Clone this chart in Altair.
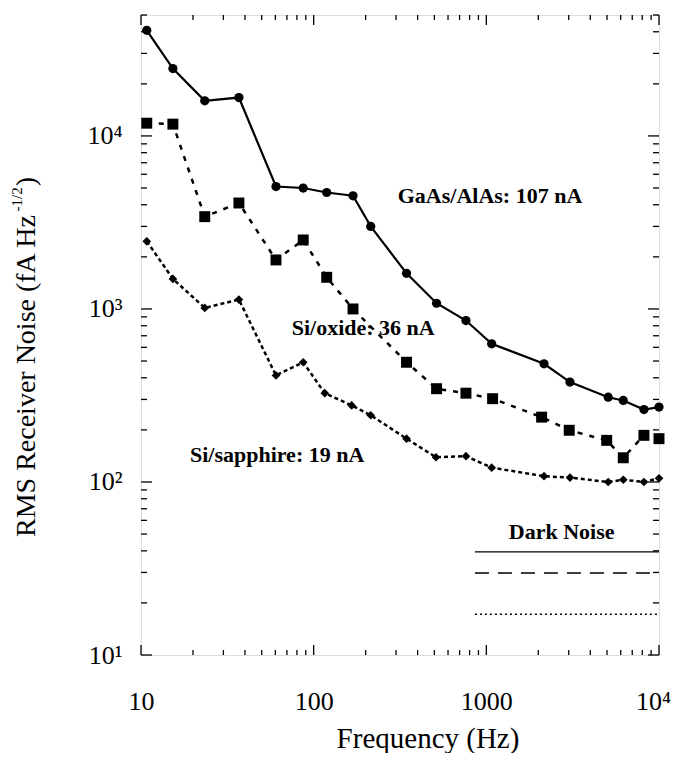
import altair as alt
import pandas as pd

# ---------------- data ----------------
gaas_f = [10.8, 15.3, 23.4, 36.9, 60.5, 87, 119, 169, 214, 345, 515, 762, 1074, 2158, 3050, 5080, 6210, 8180, 10000]
gaas_v = [40800, 24500, 15950, 16670, 5100, 5000, 4710, 4510, 3000, 1607, 1079, 857, 629, 482, 378, 309, 296, 262, 271]

oxide_f = [10.8, 15.3, 23.4, 36.9, 60.5, 87, 119, 169, 345, 515, 762, 1087, 2090, 3020, 4980, 6210, 8180, 10000]
oxide_v = [11850, 11700, 3415, 4096, 1920, 2505, 1524, 1000, 492, 346, 326, 303, 237, 199, 174, 138, 186, 178]

saph_f = [10.8, 15.3, 23.4, 36.9, 60.5, 87, 116, 166, 214, 345, 511, 762, 1074, 2158, 3050, 5080, 6210, 8180, 10000]
saph_v = [2460, 1492, 1014, 1133, 413, 492, 326, 277, 243, 178, 139, 141, 121, 108, 106, 100, 103, 100, 105]

dark_f = [859, 10000]
dark_solid = [39.5, 39.5]
dark_dashed = [29.8, 29.8]
dark_dotted = [17.2, 17.2]

labels_text = ["GaAs/AlAs: 107 nA", "Si/oxide: 36 nA", "Si/sapphire: 19 nA"]
labels_f = [1050, 74.6, 19.2]
labels_v = [4510, 771, 142.6]
labels_align = ["center", "left", "left"]

dark_label = "Dark Noise"
dark_label_f = 2730
dark_label_v = 51.4

x_major = [10, 100, 1000, 10000]
x_minor = [m * d for d in [10, 100, 1000] for m in range(2, 10)]
y_major = [10, 100, 1000, 10000]
y_minor = [m * d for d in [10, 100, 1000] for m in range(2, 10)] + [20000, 30000, 40000, 50000]

X_DOMAIN = [10, 10000]
Y_DOMAIN = [10, 50000]

W, H = 518, 640
SERIF = "Liberation Serif"

xs = alt.Scale(type="log", domain=X_DOMAIN, nice=False)
ys = alt.Scale(type="log", domain=Y_DOMAIN, nice=False)

xaxis = alt.Axis(values=x_major, ticks=False, domain=False, grid=False,
                 labelExpr="datum.value >= 10000 ? '10\u2074' : format(datum.value, 'd')",
                 labelOffset={"expr": "datum.value >= 10000 ? -6 : 0"},
                 labelFont=SERIF, labelFontSize=26, labelColor="black",
                 labelPadding=33, labelFlush=False, labelOverlap=False, title=None)
yaxis = alt.Axis(values=y_major, ticks=False, domain=False, grid=False,
                 labelExpr="'10' + (datum.value == 10 ? '\u00b9' : datum.value == 100 ? '\u00b2' : datum.value == 1000 ? '\u00b3' : '\u2074')",
                 labelFont=SERIF, labelFontSize=26, labelColor="black",
                 labelPadding=19, labelFlush=False, labelOverlap=False, title=None)


def X(field):
    return alt.X(field, type="quantitative", scale=xs, axis=xaxis)


def Y(field):
    return alt.Y(field, type="quantitative", scale=ys, axis=yaxis)


layers = []


def series(fs, vs, shape, size, dash, width):
    df = pd.DataFrame({"f": fs, "v": vs})
    base = alt.Chart(df)
    line_kw = dict(color="black", strokeWidth=width)
    if dash:
        line_kw["strokeDash"] = dash
    layers.append(base.mark_line(**line_kw).encode(x=X("f"), y=Y("v")))
    layers.append(base.mark_point(shape=shape, filled=True, color="black", size=size, opacity=1)
                  .encode(x=X("f"), y=Y("v")))


series(gaas_f, gaas_v, "circle", 85, None, 2.2)
series(oxide_f, oxide_v, "square", 120, [5, 7], 2.5)
series(saph_f, saph_v, "diamond", 75, [4, 3], 2.5)

# dark-noise reference lines
for vals, dash, w in [(dark_solid, None, 1.2), (dark_dashed, [14, 9], 1.5), (dark_dotted, [2, 3], 1.3)]:
    df = pd.DataFrame({"f": dark_f, "v": vals})
    kw = dict(color="black", strokeWidth=w)
    if dash:
        kw["strokeDash"] = dash
    layers.append(alt.Chart(df).mark_line(**kw).encode(x=X("f"), y=Y("v")))

# annotations
ann = pd.DataFrame({"t": labels_text, "f": labels_f, "v": labels_v, "a": labels_align})
for al in ["center", "left"]:
    layers.append(alt.Chart(ann[ann["a"] == al]).mark_text(
        font=SERIF, fontSize=22, fontWeight="bold", color="black", align=al, baseline="middle"
    ).encode(x=X("f"), y=Y("v"), text="t:N"))
layers.append(alt.Chart(pd.DataFrame({"t": [dark_label], "f": [dark_label_f], "v": [dark_label_v]})).mark_text(
    font=SERIF, fontSize=22, fontWeight="bold", color="black", align="center", baseline="middle"
).encode(x=X("f"), y=Y("v"), text="t:N"))

# inward ticks on all four sides
for vals, ln in [(x_major, 10), (x_minor, 5)]:
    df = pd.DataFrame({"f": vals})
    layers.append(alt.Chart(df).mark_rule(color="black", strokeWidth=1.3).encode(
        x=X("f"), y=alt.value(H), y2=alt.value(H - ln)))
    layers.append(alt.Chart(df).mark_rule(color="black", strokeWidth=1.3).encode(
        x=X("f"), y=alt.value(0), y2=alt.value(ln)))
for vals, ln in [(y_major, 11), (y_minor, 6)]:
    df = pd.DataFrame({"v": vals})
    layers.append(alt.Chart(df).mark_rule(color="black", strokeWidth=1.3).encode(
        y=Y("v"), x=alt.value(0), x2=alt.value(ln)))
    layers.append(alt.Chart(df).mark_rule(color="black", strokeWidth=1.3).encode(
        y=Y("v"), x=alt.value(W), x2=alt.value(W - ln)))

# axis titles drawn as text (for the superscript)
one = pd.DataFrame({"k": [0]})
layers.append(alt.Chart(one).mark_text(
    text="Frequency (Hz)", font=SERIF, fontSize=29, color="black", align="center", baseline="middle"
).encode(x=alt.value(287), y=alt.value(724)))

ytitle_main = "RMS Receiver Noise (fA Hz"
main_size = 28
main_len = 11.553 * main_size
y0 = 522
layers.append(alt.Chart(one).mark_text(
    text=ytitle_main, font=SERIF, fontSize=main_size, color="black", angle=270, align="left", baseline="middle"
).encode(x=alt.value(-114), y=alt.value(y0)))
sup_start = y0 - main_len - 2
layers.append(alt.Chart(one).mark_text(
    text="-1/2", font=SERIF, fontSize=15, color="black", angle=270, align="left", baseline="middle"
).encode(x=alt.value(-124), y=alt.value(sup_start)))
sup_len = 1.611 * 15
layers.append(alt.Chart(one).mark_text(
    text=")", font=SERIF, fontSize=main_size, color="black", angle=270, align="left", baseline="middle"
).encode(x=alt.value(-114), y=alt.value(sup_start - sup_len - 1)))

chart = alt.layer(*layers).properties(
    width=W, height=H,
    autosize=alt.AutoSizeParams(type="none"),
    padding={"left": 133, "top": 7, "right": 12, "bottom": 98},
).configure_view(stroke="black", strokeWidth=2).configure(background="white")

chart.save("out.html", embed_options={"renderer": "svg", "actions": False})
